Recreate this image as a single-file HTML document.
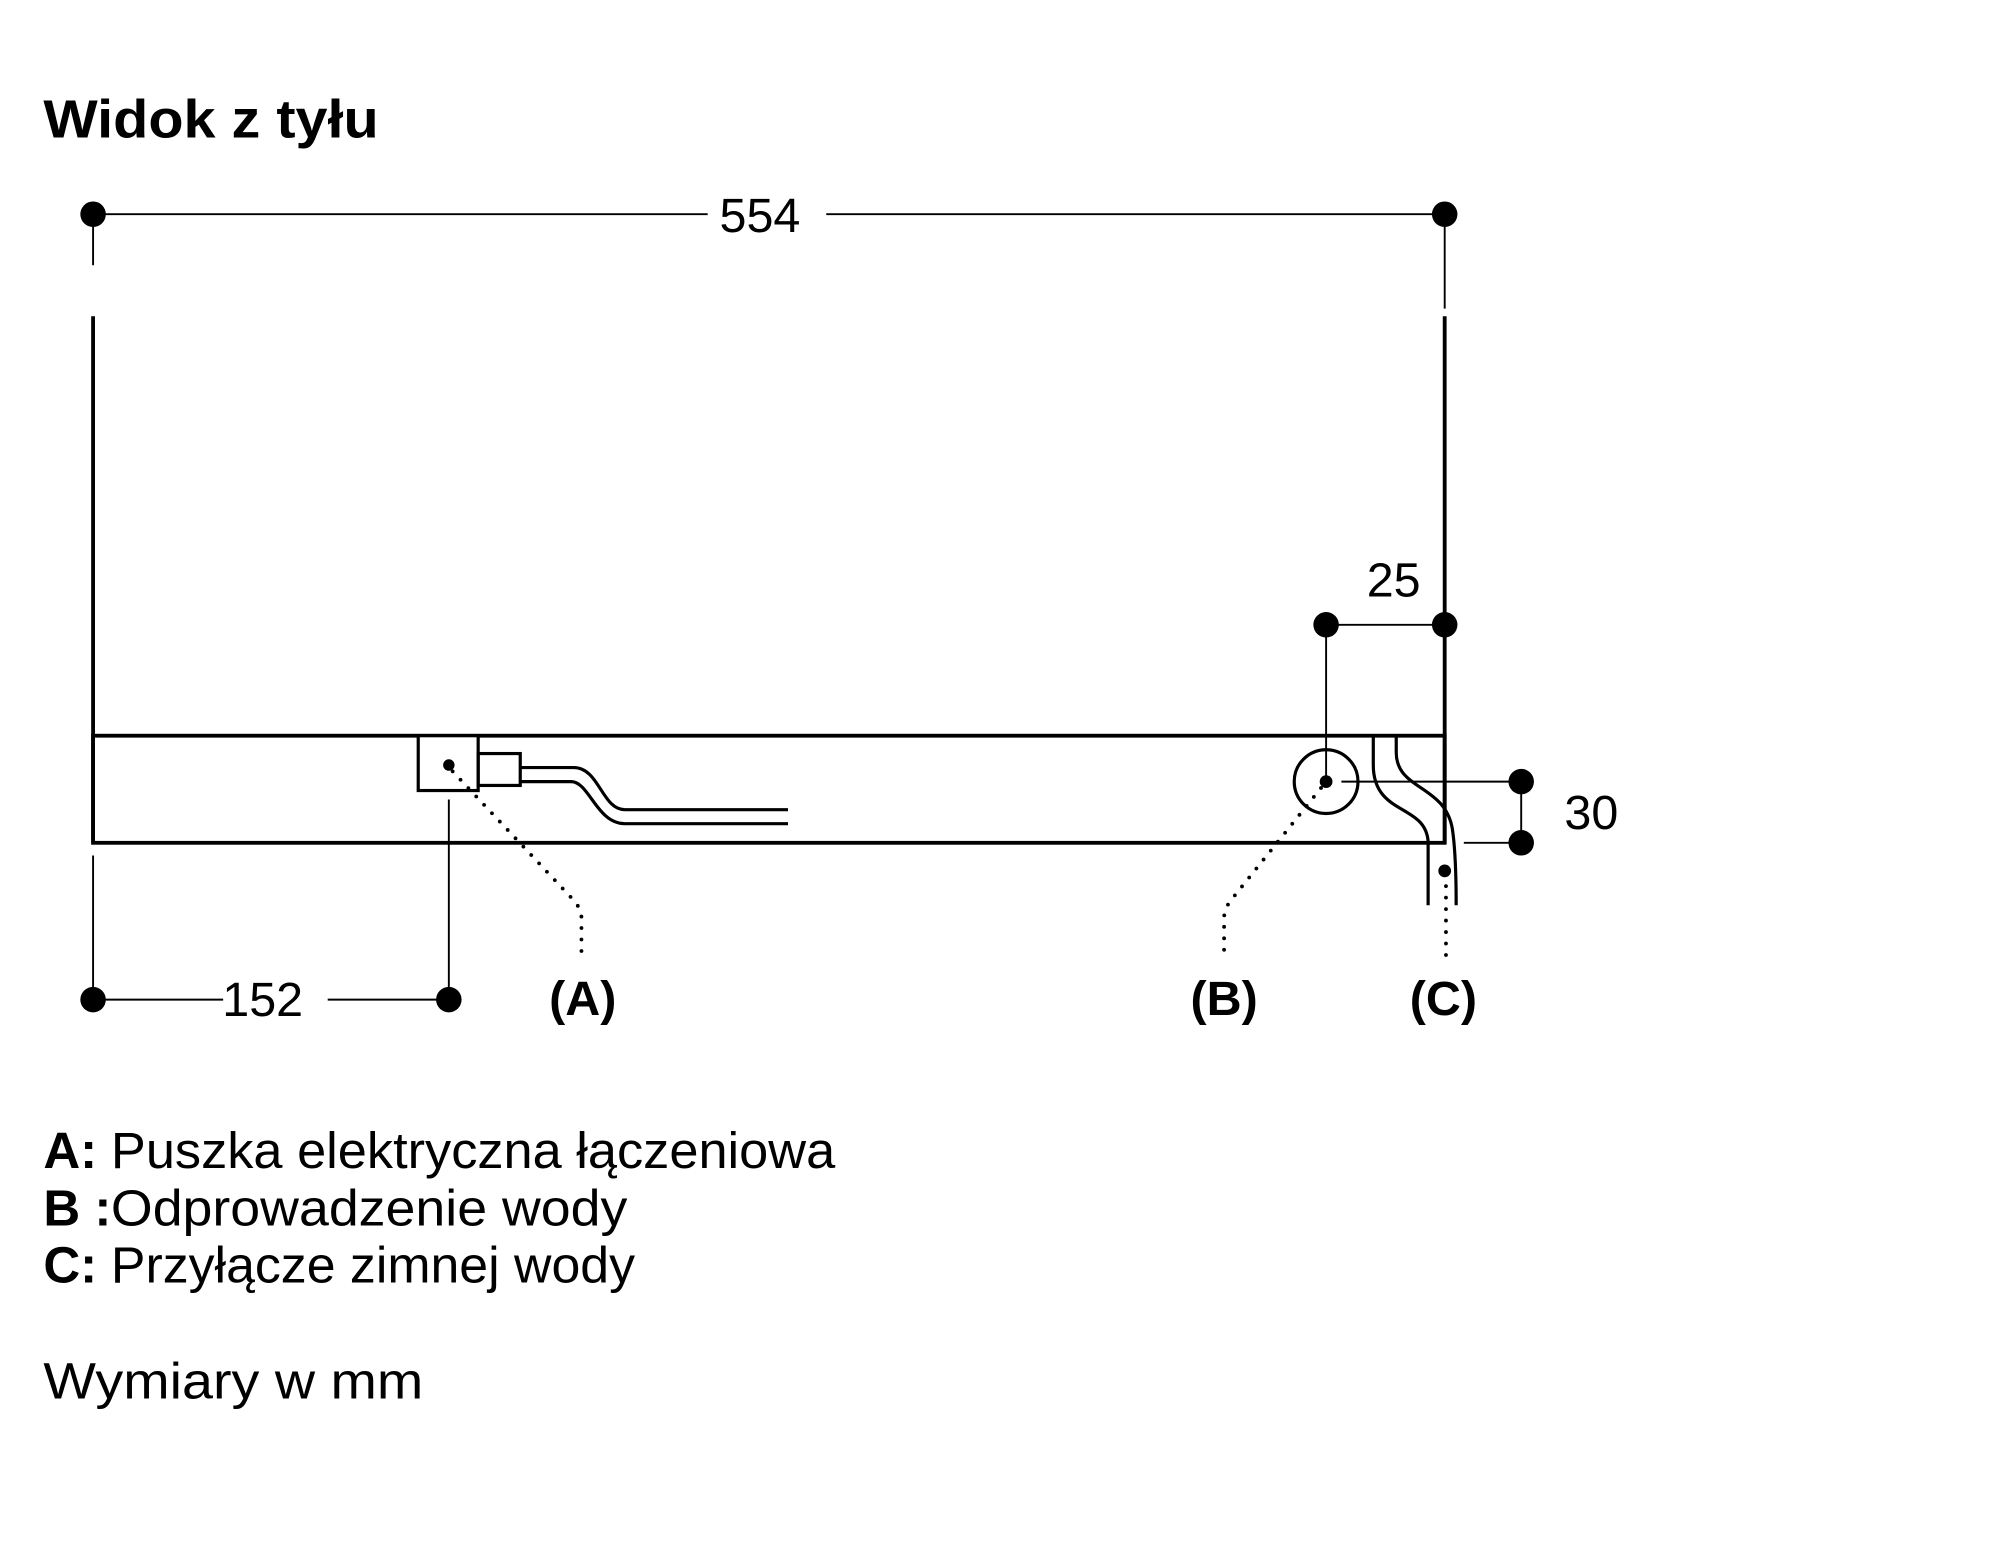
<!DOCTYPE html>
<html><head><meta charset="utf-8"><style>
html,body{margin:0;padding:0;background:#fff;}
svg{display:block;}
text{font-family:"Liberation Sans",sans-serif;fill:#000;}
</style></head><body>
<svg width="2000" height="1565" viewBox="0 0 1568.5 1227.4" preserveAspectRatio="none" xmlns="http://www.w3.org/2000/svg">
<text x="34" y="108" font-size="42" font-weight="bold" textLength="263" lengthAdjust="spacingAndGlyphs">Widok z tyłu</text>
<g stroke="#000" fill="none">
<line x1="73" y1="168" x2="555" y2="168" stroke-width="1.5"/>
<line x1="648" y1="168" x2="1133" y2="168" stroke-width="1.5"/>
<line x1="73" y1="178" x2="73" y2="208" stroke-width="1.5"/>
<line x1="1133" y1="178" x2="1133" y2="242" stroke-width="1.5"/>
<line x1="73" y1="248" x2="73" y2="661" stroke-width="3"/>
<line x1="1133" y1="248" x2="1133" y2="661" stroke-width="3"/>
<rect x="73" y="577" width="1060" height="84" stroke-width="3"/>
<line x1="73" y1="671" x2="73" y2="784" stroke-width="1.5"/>
<line x1="73" y1="784" x2="175" y2="784" stroke-width="1.5"/>
<line x1="257" y1="784" x2="352" y2="784" stroke-width="1.5"/>
<rect x="328" y="577" width="47" height="43" stroke-width="2.5" fill="#fff"/>
<rect x="375" y="591" width="33" height="25" stroke-width="2.5"/>
<path d="M408 602 H450 C470 602 472 635 490 635 H618" stroke-width="2.5"/>
<path d="M408 613 H448 C462 613 468 646 490 646 H618" stroke-width="2.5"/>
<line x1="352" y1="627" x2="352" y2="784" stroke-width="1.5"/>
<path d="M355 605 L448 704 Q456 712 456 720 V750" stroke-width="3" stroke-dasharray="0 9" stroke-linecap="round"/>
<circle cx="1040" cy="613" r="25" stroke-width="2.5"/>
<line x1="1040" y1="490" x2="1040" y2="613" stroke-width="1.5"/>
<line x1="1040" y1="490" x2="1133" y2="490" stroke-width="1.5"/>
<line x1="1052" y1="613" x2="1193" y2="613" stroke-width="1.5"/>
<line x1="1193" y1="613" x2="1193" y2="661" stroke-width="1.5"/>
<line x1="1148" y1="661" x2="1193" y2="661" stroke-width="1.5"/>
<path d="M1036 618 L967 704 Q960 712 960 720 V750" stroke-width="3" stroke-dasharray="0 9" stroke-linecap="round"/>
<path d="M1077 577 V600 C1077 640 1118 630 1120 660 V710" stroke-width="2.5"/>
<path d="M1095 577 V590 C1095 620 1133 615 1139 650 Q1142 670 1142 710" stroke-width="2.5"/>
<path d="M1134 695 V750" stroke-width="3" stroke-dasharray="0 9" stroke-linecap="round"/>
</g>
<g fill="#000">
<circle cx="73" cy="168" r="10"/><circle cx="1133" cy="168" r="10"/>
<circle cx="73" cy="784" r="10"/><circle cx="352" cy="784" r="10"/>
<circle cx="1040" cy="490" r="10"/><circle cx="1133" cy="490" r="10"/>
<circle cx="1193" cy="613" r="10"/><circle cx="1193" cy="661" r="10"/>
<circle cx="352" cy="600" r="4.5"/><circle cx="1040" cy="613" r="5"/><circle cx="1133" cy="683" r="5"/>
</g>
<text x="596" y="182" font-size="38" text-anchor="middle">554</text>
<text x="1093" y="468" font-size="38" text-anchor="middle">25</text>
<text x="1248" y="650" font-size="38" text-anchor="middle">30</text>
<text x="206" y="797" font-size="38" text-anchor="middle">152</text>
<text x="457" y="796" font-size="38" text-anchor="middle" font-weight="bold">(A)</text>
<text x="960" y="796" font-size="38" text-anchor="middle" font-weight="bold">(B)</text>
<text x="1132" y="796" font-size="38" text-anchor="middle" font-weight="bold">(C)</text>
<text x="34" y="916" font-size="40" font-weight="bold">A:</text>
<text x="87" y="916" font-size="40" textLength="568" lengthAdjust="spacingAndGlyphs">Puszka elektryczna łączeniowa</text>
<text x="34" y="961" font-size="40" font-weight="bold">B :</text>
<text x="87" y="961" font-size="40" textLength="405" lengthAdjust="spacingAndGlyphs">Odprowadzenie wody</text>
<text x="34" y="1006" font-size="40" font-weight="bold">C:</text>
<text x="87" y="1006" font-size="40" textLength="411" lengthAdjust="spacingAndGlyphs">Przyłącze zimnej wody</text>
<text x="34" y="1097" font-size="40" textLength="298" lengthAdjust="spacingAndGlyphs">Wymiary w mm</text>
</svg>
</body></html>
